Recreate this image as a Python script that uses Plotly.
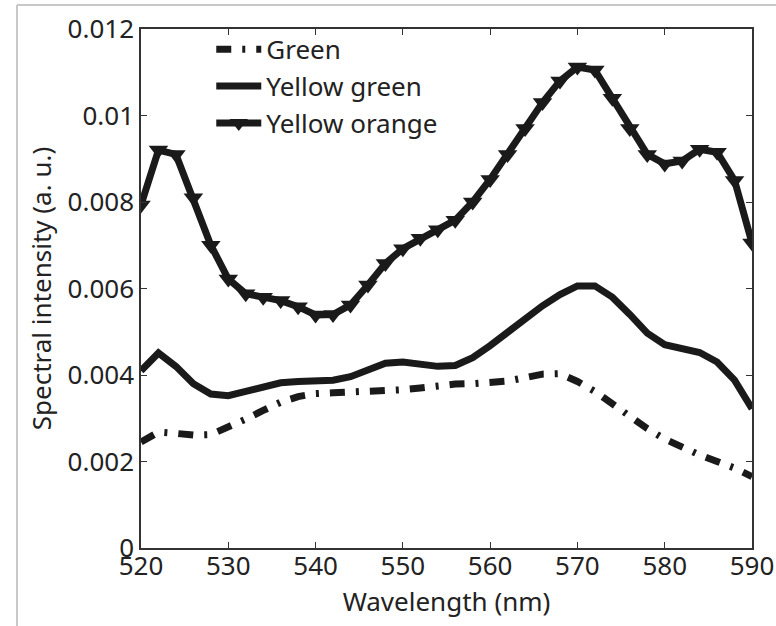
import plotly.graph_objects as go

wavelength = [520, 522, 524, 526, 528, 530, 532, 534, 536, 538, 540, 542,
              544, 546, 548, 550, 552, 554, 556, 558, 560, 562, 564, 566,
              568, 570, 572, 574, 576, 578, 580, 582, 584, 586, 588, 590]

green = [0.00245, 0.00268, 0.00265, 0.00261, 0.00262, 0.00278, 0.00298, 0.00318,
         0.00337, 0.00350, 0.00357, 0.00359, 0.00360, 0.00361, 0.00364, 0.00366,
         0.00370, 0.00376, 0.00379, 0.00380, 0.00381, 0.00386, 0.00394, 0.00402,
         0.00403, 0.00385, 0.00362, 0.00333, 0.00303, 0.00276, 0.00252, 0.00232,
         0.00215, 0.00200, 0.00185, 0.00165]

yellow_green = [0.00410, 0.00451, 0.00420, 0.00380, 0.00356, 0.00352, 0.00362, 0.00373,
                0.00382, 0.00385, 0.00386, 0.00388, 0.00396, 0.00412, 0.00427, 0.00430,
                0.00424, 0.00420, 0.00422, 0.00440, 0.00468, 0.00500, 0.00532, 0.00560,
                0.00586, 0.00606, 0.00606, 0.00580, 0.00540, 0.00497, 0.00470, 0.00460,
                0.00452, 0.00430, 0.00388, 0.00322]

yellow_orange = [0.00793, 0.00920, 0.00910, 0.00810, 0.00700, 0.00622, 0.00588, 0.00580,
                 0.00572, 0.00558, 0.00539, 0.00540, 0.00562, 0.00608, 0.00658, 0.00692,
                 0.00716, 0.00736, 0.00758, 0.00800, 0.00852, 0.00910, 0.00970, 0.01030,
                 0.01080, 0.01112, 0.01105, 0.01040, 0.00970, 0.00910, 0.00888, 0.00895,
                 0.00922, 0.00915, 0.00850, 0.00705]

series_names = ["Green", "Yellow green", "Yellow orange"]

y_ticks = [0, 0.002, 0.004, 0.006, 0.008, 0.01, 0.012]
y_tick_labels = ["0", "0.002", "0.004", "0.006", "0.008", "0.01", "0.012"]
x_ticks = [520, 530, 540, 550, 560, 570, 580, 590]

FONT = "Noto Sans"
INK = "#1a1a1a"
TXT = "#222222"
FS = 26

fig = go.Figure()
fig.add_trace(go.Scatter(
    x=wavelength, y=green, name=series_names[0], mode="lines",
    line=dict(color=INK, width=7, dash="15px,11px,3px,11px"),
))
fig.add_trace(go.Scatter(
    x=wavelength, y=yellow_green, name=series_names[1], mode="lines",
    line=dict(color=INK, width=7),
))
fig.add_trace(go.Scatter(
    x=wavelength, y=yellow_orange, name=series_names[2], mode="lines+markers",
    line=dict(color=INK, width=7),
    marker=dict(symbol="triangle-down", size=17, color=INK, line=dict(width=0)),
))

# Grey frame lines (top and left) seen in the screenshot
L, R, T, B = 141, 24, 29, 78
W, H = 776, 626
pw, ph = W - L - R, H - T - B
fx = (17 - L) / pw
fy_top = 1 + (T - 5) / ph
fig.add_shape(type="line", xref="paper", yref="paper", x0=fx, x1=(W - L) / pw,
              y0=fy_top, y1=fy_top, line=dict(color="#c8c8c8", width=2))
fig.add_shape(type="line", xref="paper", yref="paper", x0=fx, x1=fx,
              y0=fy_top, y1=-(B + 5) / ph, line=dict(color="#c8c8c8", width=2))

axis_common = dict(
    showline=True, linecolor="#333333", linewidth=1.5, mirror="ticks",
    ticks="inside", ticklen=6, tickwidth=1.2, tickcolor="#333333",
    showgrid=False, zeroline=False, automargin=False,
    tickfont=dict(family=FONT, size=FS, color=TXT),
)

fig.update_layout(
    width=W, height=H,
    margin=dict(l=L, r=R, t=T, b=B),
    paper_bgcolor="white", plot_bgcolor="white",
    font=dict(family=FONT, size=FS, color=TXT),
    showlegend=True,
    legend=dict(
        x=0.115, y=1.006, xanchor="left", yanchor="top",
        bgcolor="rgba(0,0,0,0)", borderwidth=0,
        font=dict(family=FONT, size=FS, color=TXT),
        itemwidth=45, tracegroupgap=0,
    ),
    xaxis=dict(
        range=[520, 590], tickvals=x_ticks, ticklabelstandoff=-6,
        title=dict(text="Wavelength (nm)", font=dict(family=FONT, size=FS, color=TXT), standoff=0),
        **axis_common,
    ),
    yaxis=dict(
        range=[0, 0.012], tickvals=y_ticks, ticktext=y_tick_labels,
        title=dict(text="Spectral intensity (a. u.)", font=dict(family=FONT, size=FS, color=TXT), standoff=8),
        **axis_common,
    ),
)

fig.write_html("out.html")
